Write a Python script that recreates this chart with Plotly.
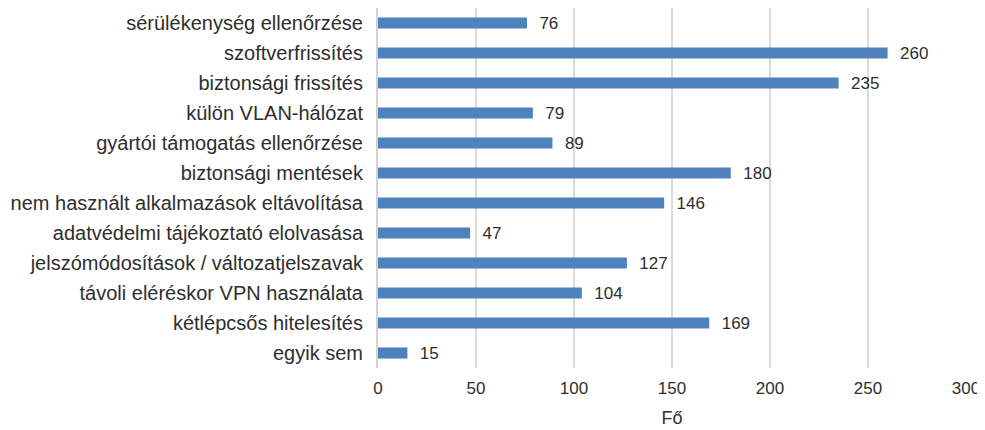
import plotly.graph_objects as go

categories = [
    "sérülékenység ellenőrzése",
    "szoftverfrissítés",
    "biztonsági frissítés",
    "külön VLAN-hálózat",
    "gyártói támogatás ellenőrzése",
    "biztonsági mentések",
    "nem használt alkalmazások eltávolítása",
    "adatvédelmi tájékoztató elolvasása",
    "jelszómódosítások / változatjelszavak",
    "távoli eléréskor VPN használata",
    "kétlépcsős hitelesítés",
    "egyik sem",
]
values = [76, 260, 235, 79, 89, 180, 146, 47, 127, 104, 169, 15]
x_ticks = [0, 50, 100, 150, 200, 250, 300]
x_title = "Fő"

font_color = "#2e2e2e"
fam = "Liberation Sans, Arial"

fig = go.Figure(
    go.Bar(
        y=categories,
        x=values,
        orientation="h",
        marker=dict(color="#4f81bd", line=dict(width=0)),
        text=[str(v) for v in values],
        textposition="outside",
        texttemplate="  %{text}",
        constraintext="none",
        textfont=dict(size=17, color=font_color, family=fam),
        cliponaxis=False,
        width=0.37,
    )
)

fig.update_layout(
    width=977,
    height=422,
    margin=dict(l=370, r=19, t=0, b=62),
    paper_bgcolor="white",
    plot_bgcolor="white",
    font=dict(family=fam, size=16, color=font_color),
    showlegend=False,
)
fig.update_xaxes(
    range=[0, 300],
    tickvals=x_ticks,
    showgrid=True,
    gridcolor="#dadada",
    gridwidth=2,
    zeroline=False,
    showline=False,
    ticks="",
    automargin=False,
    ticklabelstandoff=8,
    tickfont=dict(size=17, color=font_color),
    title=dict(text=x_title, font=dict(size=18, color=font_color), standoff=14),
)
fig.update_yaxes(
    categoryorder="array",
    categoryarray=categories,
    autorange="reversed",
    showgrid=False,
    zeroline=False,
    showline=True,
    linecolor="#d4d4d4",
    linewidth=2,
    ticks="",
    ticklabelstandoff=9,
    automargin=False,
    tickfont=dict(size=20, color=font_color),
)

fig.write_html("out.html")
